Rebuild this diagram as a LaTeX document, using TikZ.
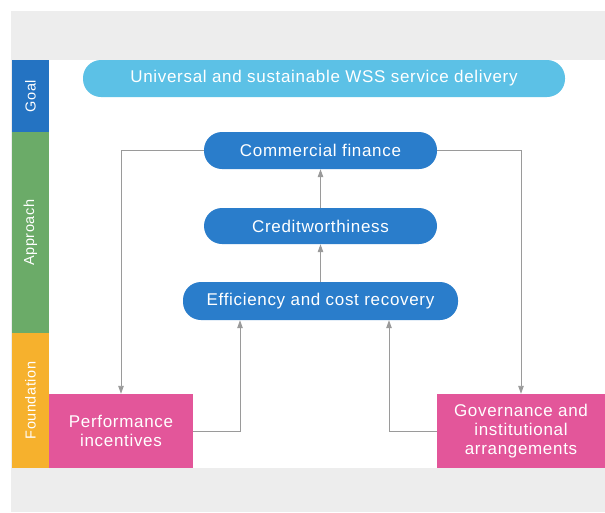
\documentclass[tikz,border=0pt]{standalone}
\usepackage{fontspec}
\setmainfont{Liberation Sans}[LetterSpace=4]
\usetikzlibrary{arrows.meta}
\definecolor{bggray}{HTML}{EDEDED}
\definecolor{goalblue}{HTML}{2473C2}
\definecolor{apgreen}{HTML}{6BAB68}
\definecolor{fdyellow}{HTML}{F6B12D}
\definecolor{pillblue}{HTML}{2A7DCB}
\definecolor{goalpill}{HTML}{5CC1E6}
\definecolor{fpink}{HTML}{E3569A}
\definecolor{linegray}{HTML}{9A9A9A}
\begin{document}
\begin{tikzpicture}[x=1pt,y=-1pt,
  strip/.style={rotate=90,minimum height=37,inner sep=0pt,text=white,font=\fontsize{14.5}{16}\selectfont},
  pill/.style={rounded corners=18pt,minimum height=37,inner sep=0pt,text=white,font=\fontsize{17}{19}\selectfont},
  fbox/.style={fill=fpink,minimum height=74,inner sep=0pt,text=white,align=center,font=\fontsize{17}{19}\selectfont},
  conn/.style={draw=linegray,line width=0.9pt,-{Triangle[length=8pt,width=5.5pt]}}]
\useasboundingbox (0,0) rectangle (605,512);
\fill[white] (0,0) rectangle (605,512);
\fill[bggray] (11,11) rectangle (605,512);
\fill[white] (49,60) rectangle (605,468);
\node[strip,fill=goalblue,minimum width=72] (sgoal) at (30.5,96) {Goal};
\node[strip,fill=apgreen,minimum width=201] (sapp) at (30.5,232.5) {Approach};
\node[strip,fill=fdyellow,minimum width=135] (sfound) at (30.5,400.5) {Foundation};
\node[pill,fill=goalpill,minimum width=482] (goal) at (324,78.5) {Universal and sustainable WSS service delivery};
\node[pill,fill=pillblue,minimum width=233] (cf) at (320.5,150.5) {Commercial finance};
\node[pill,fill=pillblue,minimum width=233,minimum height=36] (cw) at (320.5,226) {Creditworthiness};
\node[pill,fill=pillblue,minimum width=275,minimum height=38] (eff) at (320.5,301) {Efficiency and cost recovery};
\node[fbox,minimum width=144] (perf) at (121,431) {Performance\\incentives};
\node[fbox,minimum width=168] (gov) at (521,431) {Governance and\\institutional\\arrangements};
\draw[conn] (cw.north) -- (cf.south);
\draw[conn] (eff.north) -- (cw.south);
\draw[conn] (cf.west) -| (perf.north);
\draw[conn] (cf.east) -| (gov.north);
\draw[conn] (perf.east) -| ([xshift=-80.5pt]eff.south);
\draw[conn] (gov.west) -| ([xshift=68.5pt]eff.south);
\end{tikzpicture}
\end{document}
